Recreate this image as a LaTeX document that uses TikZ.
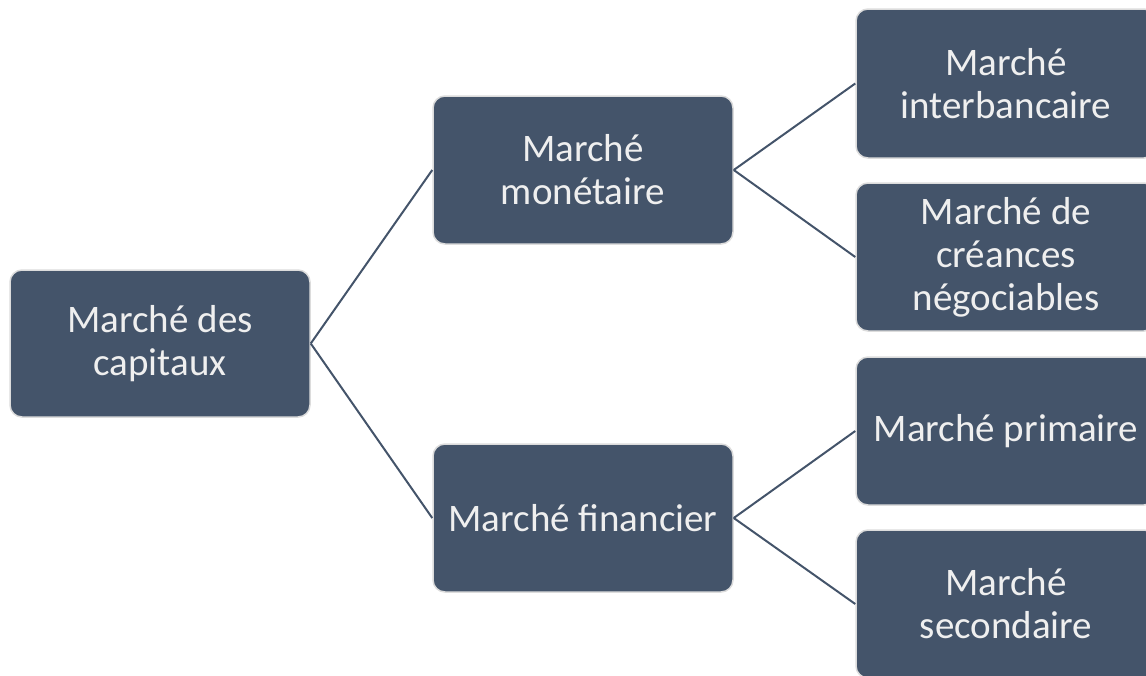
\documentclass[tikz,border=0pt]{standalone}
\usepackage{fontspec}
\setmainfont{Carlito}
\definecolor{boxfill}{HTML}{44546A}
\definecolor{boxline}{HTML}{DCDCDC}
\definecolor{boxtext}{HTML}{EFEFEF}
\begin{document}
\begin{tikzpicture}[x=1pt,y=-1pt,
  mbox/.style={draw=boxline, line width=1.5pt, fill=boxfill, rounded corners=12pt,
    minimum width=300pt, minimum height=148pt, inner sep=0pt, align=center,
    text=boxtext, font=\fontsize{39pt}{43pt}\selectfont},
  link/.style={draw=boxfill, line width=2pt}]
\useasboundingbox (0,0) rectangle (1146,675);
\clip (0,0) rectangle (1146,675);
\node[mbox, minimum height=147pt] (root) at (160,343.5) {Marché des\\capitaux};
\node[mbox] (mon) at (583,170) {Marché\\monétaire};
\node[mbox] (fin) at (583,518) {Marché financier};
\node[mbox, minimum height=149pt] (inter) at (1006,83.5) {Marché\\interbancaire};
\node[mbox] (cre) at (1006,257) {Marché de\\créances\\négociables};
\node[mbox] (prim) at (1006,431) {Marché primaire};
\node[mbox] (sec) at (1006,604) {Marché\\secondaire};
\draw[link] (root.east) -- (mon.west);
\draw[link] (root.east) -- (fin.west);
\draw[link] (mon.east) -- (inter.west);
\draw[link] (mon.east) -- (cre.west);
\draw[link] (fin.east) -- (prim.west);
\draw[link] (fin.east) -- (sec.west);
\end{tikzpicture}
\end{document}
